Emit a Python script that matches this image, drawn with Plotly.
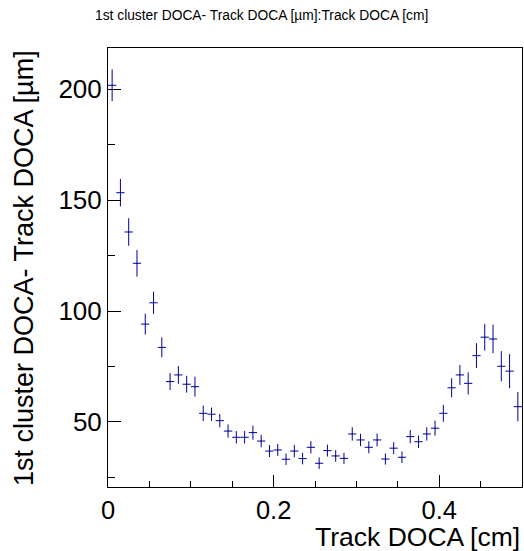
import plotly.graph_objects as go

# Bin centres of Track DOCA [cm]
track_doca_cm = [0.005, 0.015, 0.025, 0.035, 0.045, 0.055, 0.065, 0.075, 0.085, 0.095,
                 0.105, 0.115, 0.125, 0.135, 0.145, 0.155, 0.165, 0.175, 0.185, 0.195,
                 0.205, 0.215, 0.225, 0.235, 0.245, 0.255, 0.265, 0.275, 0.285, 0.295,
                 0.305, 0.315, 0.325, 0.335, 0.345, 0.355, 0.365, 0.375, 0.385, 0.395,
                 0.405, 0.415, 0.425, 0.435, 0.445, 0.455, 0.465, 0.475, 0.485, 0.495]
# half bin width [cm]
bin_half_width = [0.005] * 50

# Profile mean: 1st cluster DOCA - Track DOCA [um]
delta_doca_um = [201.7, 153.3, 135.6, 121.5, 94.1, 103.7, 83.6, 68.2, 71.2, 67.0,
                 65.9, 53.9, 53.5, 50.6, 45.9, 43.1, 43.1, 45.2, 41.4, 36.9,
                 37.4, 33.2, 36.9, 33.5, 38.6, 31.4, 37.1, 34.7, 33.6, 44.6,
                 41.9, 38.6, 41.9, 33.3, 38.2, 34.1, 43.4, 41.1, 44.6, 47.2,
                 53.9, 65.4, 71.2, 67.4, 79.9, 88.2, 87.4, 75.1, 72.9, 56.9]
# Error on the mean [um]
delta_doca_err = [7.2, 6.2, 6.2, 6.0, 4.7, 5.0, 4.5, 3.8, 4.0, 3.8,
                  4.5, 3.5, 3.0, 3.0, 3.0, 2.8, 2.8, 3.2, 2.8, 2.7,
                  2.7, 2.6, 2.8, 2.6, 2.8, 2.6, 2.7, 2.6, 2.5, 3.0,
                  2.8, 2.7, 2.9, 2.5, 2.7, 2.6, 3.0, 2.8, 3.0, 3.4,
                  3.8, 4.3, 4.5, 5.0, 5.6, 6.0, 6.4, 6.8, 7.7, 6.6]

x_range = [0.0, 0.5]
y_range = [20.7, 218.5]

title_text = "1st cluster DOCA- Track DOCA [µm]:Track DOCA [cm]"
x_title = "Track DOCA [cm]"
y_title = "1st cluster DOCA- Track DOCA [µm]"

FONT = "Liberation Sans, Arial, Helvetica, sans-serif"
COL = "#000099"

fig = go.Figure()
fig.add_trace(go.Scatter(
    x=track_doca_cm, y=delta_doca_um,
    mode="markers",
    marker=dict(size=1, color=COL),
    error_y=dict(type="data", array=delta_doca_err, visible=True,
                 color=COL, thickness=1, width=0),
    error_x=dict(type="data", array=bin_half_width, visible=True,
                 color=COL, thickness=1, width=0),
    showlegend=False,
    hoverinfo="skip",
))

fig.update_layout(
    width=524, height=551,
    margin=dict(l=108, r=2, t=48, b=64, autoexpand=False),
    paper_bgcolor="white", plot_bgcolor="white",
    font=dict(family=FONT, color="black"),
    xaxis=dict(range=x_range, dtick=0.2, tick0=0, ticks="inside", ticklen=12,
               tickcolor="black", tickwidth=1,
               minor=dict(dtick=0.05, ticks="inside", ticklen=6, tickcolor="black"),
               showline=True, linecolor="black", linewidth=1, mirror=True,
               showgrid=False, zeroline=False,
               tickfont=dict(size=25.5, family=FONT, color="black")),
    yaxis=dict(range=y_range, dtick=50, tick0=0, ticks="inside", ticklen=13,
               tickcolor="black", tickwidth=1,
               minor=dict(dtick=25, ticks="inside", ticklen=7, tickcolor="black"),
               showline=True, linecolor="black", linewidth=1, mirror=True,
               showgrid=False, zeroline=False,
               tickfont=dict(size=26, family=FONT, color="black")),
    annotations=[
        dict(text=title_text, xref="paper", yref="paper", x=0.3708, y=1.0729,
             xanchor="center", yanchor="middle", showarrow=False,
             font=dict(size=13.8, family=FONT, color="black")),
        dict(text=x_title, xref="paper", yref="paper", x=1.0, y=-0.1135,
             xanchor="right", yanchor="middle", showarrow=False,
             font=dict(size=26.5, family=FONT, color="black")),
        dict(text=y_title, xref="paper", yref="paper", x=-0.203, y=1.0,
             xanchor="center", yanchor="top", textangle=-90, showarrow=False,
             font=dict(size=27, family=FONT, color="black")),
    ],
)

fig.write_html("out.html")
